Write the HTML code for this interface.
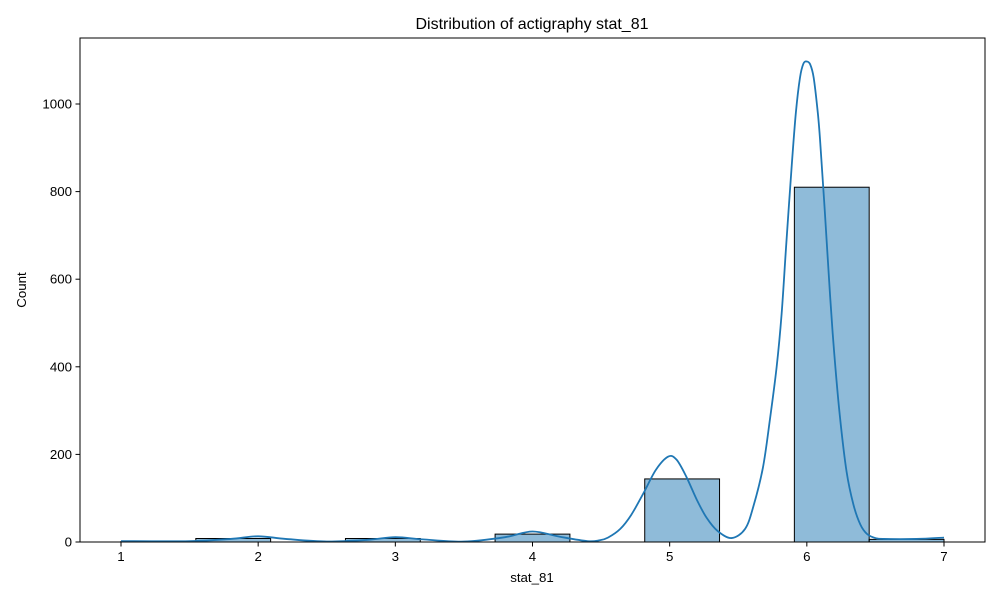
<!DOCTYPE html>
<html><head><meta charset="utf-8"><style>
html,body{margin:0;padding:0;background:#fff;}
svg{display:block;font-family:"Liberation Sans","DejaVu Sans",sans-serif;}
</style></head><body>
<svg id="chart" width="1000" height="600" viewBox="0 0 1000 600">
<rect x="0" y="0" width="1000" height="600" fill="#fff"/>
<g id="bars"></g>
<g id="kde"></g>
<rect x="80" y="38" width="905" height="504" fill="none" stroke="#000" stroke-width="1"/>
<g id="xticks"></g>
<g id="yticks"></g>
<text x="532" y="29" text-anchor="middle" font-size="16">Distribution of actigraphy stat_81</text>
<text x="532" y="582" text-anchor="middle" font-size="13.3">stat_81</text>
<text x="26" y="290" text-anchor="middle" font-size="13.3" transform="rotate(-90 26 290)">Count</text>
</svg>
<script>
const binStart = 1;
const binEnd = 7;
const binCounts = [1, 8, 0, 8, 0, 18, 0, 144, 0, 810, 6];
const kdeX = [1.0, 1.5, 1.8, 2.0, 2.2, 2.5, 2.8, 3.0, 3.2, 3.5, 3.8, 4.0, 4.2, 4.4, 4.49, 4.55, 4.64, 4.72, 4.81, 4.9, 4.99, 5.05, 5.12, 5.2, 5.27, 5.35, 5.452, 5.55, 5.61, 5.68, 5.731, 5.78, 5.816, 5.85, 5.89, 5.92, 5.95, 5.975, 6.0, 6.025, 6.05, 6.08, 6.096, 6.13, 6.17, 6.2, 6.24, 6.29, 6.34, 6.39, 6.44, 6.5, 6.56, 6.8, 7.0];
const kdeY = [2, 2, 7, 13, 7, 1, 5, 11, 6, 1, 11, 24, 12, 2, 4, 10, 30, 62, 112, 165, 195, 188, 150, 95, 55, 25, 9, 30, 81, 170, 280, 400, 520, 680, 860, 980, 1060, 1092, 1097, 1090, 1060, 980, 920, 760, 560, 430, 290, 160, 85, 40, 18, 9, 7, 7, 10];
const xTicks = [1, 2, 3, 4, 5, 6, 7];
const yTicks = [0, 200, 400, 600, 800, 1000];

const NS = "http://www.w3.org/2000/svg";
const xs = v => 121 + (v - 1) * (944 - 121) / 6;
const ys = v => 542 - v * 0.438;

const barsG = document.getElementById('bars');
const bw = (binEnd - binStart) / binCounts.length;
binCounts.forEach((c, i) => {
  if (c <= 0) return;
  const r = document.createElementNS(NS, 'rect');
  const x0 = xs(binStart + i * bw), x1 = xs(binStart + (i + 1) * bw);
  r.setAttribute('x', x0); r.setAttribute('y', ys(c));
  r.setAttribute('width', x1 - x0); r.setAttribute('height', ys(0) - ys(c));
  r.setAttribute('fill', 'rgba(31,119,180,0.5)'); r.setAttribute('stroke', '#000'); r.setAttribute('stroke-width', '1');
  
  
  barsG.appendChild(r);
});

const pts = kdeX.map((x, i) => [xs(x), ys(kdeY[i])]);
let d = 'M' + pts[0][0] + ',' + pts[0][1];
for (let i = 0; i < pts.length - 1; i++) {
  const p0 = pts[Math.max(0, i - 1)], p1 = pts[i], p2 = pts[i + 1], p3 = pts[Math.min(pts.length - 1, i + 2)];
  const c1x = p1[0] + (p2[0] - p0[0]) / 6, c1y = p1[1] + (p2[1] - p0[1]) / 6;
  const c2x = p2[0] - (p3[0] - p1[0]) / 6, c2y = p2[1] - (p3[1] - p1[1]) / 6;
  d += ` C${c1x},${Math.min(c1y, 542)} ${c2x},${Math.min(c2y, 542)} ${p2[0]},${p2[1]}`;
}
const path = document.createElementNS(NS, 'path');
path.setAttribute('d', d); path.setAttribute('fill', 'none');
path.setAttribute('stroke', '#1f77b4'); path.setAttribute('stroke-width', '1.8');
path.setAttribute('stroke-linejoin', 'round');


document.getElementById('kde').appendChild(path);

const xg = document.getElementById('xticks');
xTicks.forEach(t => {
  const l = document.createElementNS(NS, 'line');
  l.setAttribute('x1', xs(t)); l.setAttribute('x2', xs(t)); l.setAttribute('y1', 542); l.setAttribute('y2', 546.5);
  l.setAttribute('stroke', '#000');
  
  
  xg.appendChild(l);
  const tx = document.createElementNS(NS, 'text');
  tx.setAttribute('x', xs(t)); tx.setAttribute('y', 561); tx.setAttribute('text-anchor', 'middle'); tx.setAttribute('font-size', '13.3');
  tx.textContent = t;
  
  
  xg.appendChild(tx);
});
const yg = document.getElementById('yticks');
yTicks.forEach(t => {
  const l = document.createElementNS(NS, 'line');
  l.setAttribute('x1', 75.5); l.setAttribute('x2', 80); l.setAttribute('y1', ys(t)); l.setAttribute('y2', ys(t));
  l.setAttribute('stroke', '#000');
  
  
  yg.appendChild(l);
  const tx = document.createElementNS(NS, 'text');
  tx.setAttribute('x', 72); tx.setAttribute('y', ys(t) + 4.5); tx.setAttribute('text-anchor', 'end'); tx.setAttribute('font-size', '13.3');
  tx.textContent = t;
  
  
  yg.appendChild(tx);
});
</script>
</body></html>
